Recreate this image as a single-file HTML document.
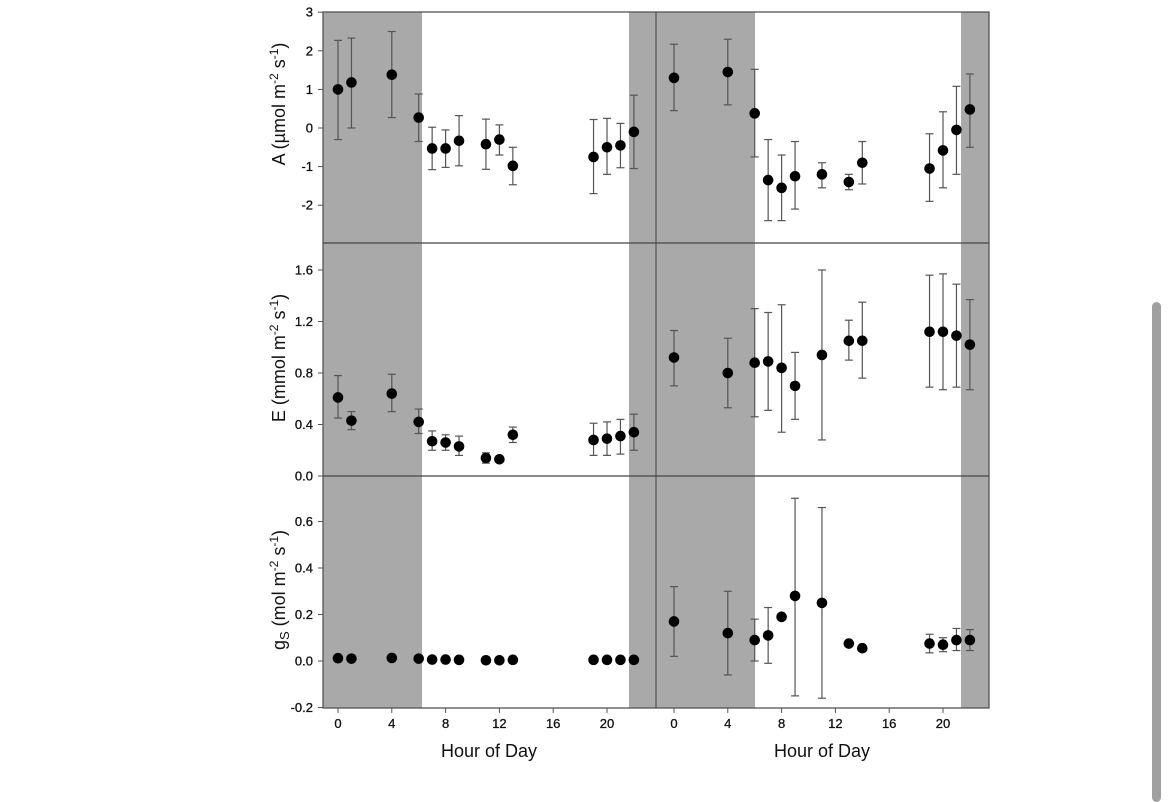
<!DOCTYPE html>
<html><head><meta charset="utf-8"><style>
body{margin:0;background:#fff;width:1170px;height:786px;overflow:hidden;font-family:"Liberation Sans",Arial,sans-serif}
svg{position:absolute;left:0;top:0}
#scroll{position:absolute;left:1152px;top:302px;width:9px;height:500px;background:#a0a0a0;border-radius:5px}
</style></head><body>
<svg id="chart" width="1170" height="786" xmlns="http://www.w3.org/2000/svg"></svg>
<div id="scroll"></div>
<script>
// data
const leftHours=[0,1,4,6,7,8,9,11,12,13,19,20,21,22];
const rightHours=[0,4,6,7,8,9,11,13,14,19,20,21,22];
const leftA=[1.0,1.18,1.38,0.27,-0.53,-0.53,-0.33,-0.42,-0.3,-0.98,-0.75,-0.5,-0.45,-0.1];
const leftAlo=[-0.3,0,0.27,-0.35,-1.08,-1.02,-0.98,-1.07,-0.7,-1.47,-1.7,-1.2,-1.03,-1.05];
const leftAhi=[2.27,2.33,2.5,0.88,0.02,-0.05,0.32,0.23,0.08,-0.5,0.22,0.25,0.12,0.85];
const rightA=[1.3,1.45,0.38,-1.35,-1.55,-1.25,-1.2,-1.4,-0.9,-1.05,-0.58,-0.05,0.48];
const rightAlo=[0.45,0.6,-0.75,-2.4,-2.4,-2.1,-1.55,-1.6,-1.45,-1.9,-1.55,-1.2,-0.5];
const rightAhi=[2.17,2.3,1.52,-0.3,-0.7,-0.35,-0.9,-1.2,-0.35,-0.15,0.42,1.08,1.4];
const leftE=[0.61,0.43,0.64,0.42,0.27,0.26,0.23,0.14,0.13,0.32,0.28,0.29,0.31,0.34];
const leftElo=[0.45,0.36,0.5,0.33,0.2,0.2,0.16,0.1,0.11,0.26,0.16,0.16,0.17,0.2];
const leftEhi=[0.78,0.5,0.79,0.52,0.35,0.32,0.31,0.18,0.15,0.38,0.41,0.42,0.44,0.48];
const rightE=[0.92,0.8,0.88,0.89,0.84,0.7,0.94,1.05,1.05,1.12,1.12,1.09,1.02];
const rightElo=[0.7,0.53,0.46,0.51,0.34,0.44,0.28,0.9,0.76,0.69,0.67,0.69,0.67];
const rightEhi=[1.13,1.07,1.3,1.27,1.33,0.96,1.6,1.21,1.35,1.56,1.57,1.49,1.37];
const leftG=[0.012,0.01,0.013,0.01,0.006,0.006,0.005,0.003,0.003,0.005,0.005,0.005,0.005,0.005];
const rightG=[0.17,0.12,0.09,0.11,0.19,0.28,0.25,0.075,0.055,0.075,0.07,0.09,0.09];
const rightGlo=[0.02,-0.06,0,-0.01,0.18,-0.15,-0.16,0.07,0.05,0.035,0.04,0.045,0.045];
const rightGhi=[0.32,0.3,0.18,0.23,0.2,0.7,0.66,0.085,0.065,0.115,0.1,0.14,0.135];
const xTicks=[0,4,8,12,16,20];
const aTicks=[3,2,1,0,-1,-2];
const eTicks=[1.6,1.2,0.8,0.4,0.0];
const gTicks=[0.6,0.4,0.2,0.0,-0.2];

const svg=document.getElementById('chart');
const NS='http://www.w3.org/2000/svg';
function mk(tag,at,parent){const e=document.createElementNS(NS,tag);for(const k in at)e.setAttribute(k,at[k]);(parent||svg).appendChild(e);return e;}
const xL=h=>338+h*13.45, xR=h=>674+h*13.45;
const rows=[
 {top:12,bot:243,y:v=>128-v*38.6,ticks:aTicks,fmt:v=>String(v)},
 {top:243,bot:476,y:v=>476-v*128.75,ticks:eTicks,fmt:v=>v.toFixed(1)},
 {top:476,bot:708,y:v=>661-v*232.5,ticks:gTicks,fmt:v=>v.toFixed(1)}];
// shading
[[323,422],[629,656],[656,755],[961,989]].forEach(s=>{
 const r=mk('rect',{x:s[0],y:12,width:s[1]-s[0],height:696,fill:'#a9a9a9'});
 
 
});
// frame lines
mk('rect',{x:323,y:12,width:666,height:696,fill:'none',stroke:'#555','stroke-width':1.3});
mk('line',{x1:656,y1:12,x2:656,y2:708,stroke:'#444','stroke-width':1});
mk('line',{x1:323,y1:243,x2:989,y2:243,stroke:'#444','stroke-width':1.3});
mk('line',{x1:323,y1:476,x2:989,y2:476,stroke:'#444','stroke-width':1.3});
// y ticks
rows.forEach(r=>{r.ticks.forEach(t=>{const y=r.y(t);
 mk('line',{x1:318,y1:y,x2:323,y2:y,stroke:'#555'});
 const tx=mk('text',{x:313,y:y+4.5,'text-anchor':'end','font-size':13,fill:'#111',stroke:'#111','stroke-width':0.3});tx.textContent=r.fmt(t);
 
 
});});
// y titles
function ytitle(cy,html,name){const t=mk('text',{x:0,y:0,transform:`translate(285,${cy}) rotate(-90)`,'text-anchor':'middle','font-size':18,fill:'#111'});t.innerHTML=html;
 
 }
ytitle(104,'A (µmol m<tspan dy="-7" font-size="12">-2</tspan><tspan dy="7"> s</tspan><tspan dy="-7" font-size="12">-1</tspan><tspan dy="7">)</tspan>','a-axis-title');
ytitle(358,'E (mmol m<tspan dy="-7" font-size="12">-2</tspan><tspan dy="7"> s</tspan><tspan dy="-7" font-size="12">-1</tspan><tspan dy="7">)</tspan>','e-axis-title');
ytitle(590,'g<tspan dy="4" font-size="13">S</tspan><tspan dy="-4"> (mol m</tspan><tspan dy="-7" font-size="12">-2</tspan><tspan dy="7"> s</tspan><tspan dy="-7" font-size="12">-1</tspan><tspan dy="7">)</tspan>','gs-axis-title');
// x ticks
[xL,xR].forEach((fx,i)=>{xTicks.forEach(t=>{const x=fx(t);
 mk('line',{x1:x,y1:708,x2:x,y2:713,stroke:'#555'});
 const tx=mk('text',{x:x,y:728,'text-anchor':'middle','font-size':13,fill:'#111',stroke:'#111','stroke-width':0.3});tx.textContent=t;
 
 
});
 const tt=mk('text',{x:i?822:489,y:757,'text-anchor':'middle','font-size':18,fill:'#111'});tt.textContent='Hour of Day';
 
 
});
// series
function series(fx,row,hours,vals,lo,hi){hours.forEach((h,i)=>{const x=fx(h);
 if(lo){const y1=row.y(lo[i]),y2=row.y(hi[i]);
  mk('line',{x1:x,y1:y1,x2:x,y2:y2,stroke:'#555','stroke-width':1.2});
  mk('line',{x1:x-4,y1:y1,x2:x+4,y2:y1,stroke:'#555','stroke-width':1.2});
  mk('line',{x1:x-4,y1:y2,x2:x+4,y2:y2,stroke:'#555','stroke-width':1.2});}
 const c=mk('circle',{cx:x,cy:row.y(vals[i]),r:5.3,fill:'#000'});
 
 
});}
series(xL,rows[0],leftHours,leftA,leftAlo,leftAhi);
series(xR,rows[0],rightHours,rightA,rightAlo,rightAhi);
series(xL,rows[1],leftHours,leftE,leftElo,leftEhi);
series(xR,rows[1],rightHours,rightE,rightElo,rightEhi);
series(xL,rows[2],leftHours,leftG,null,null);
series(xR,rows[2],rightHours,rightG,rightGlo,rightGhi);
</script>
</body></html>
